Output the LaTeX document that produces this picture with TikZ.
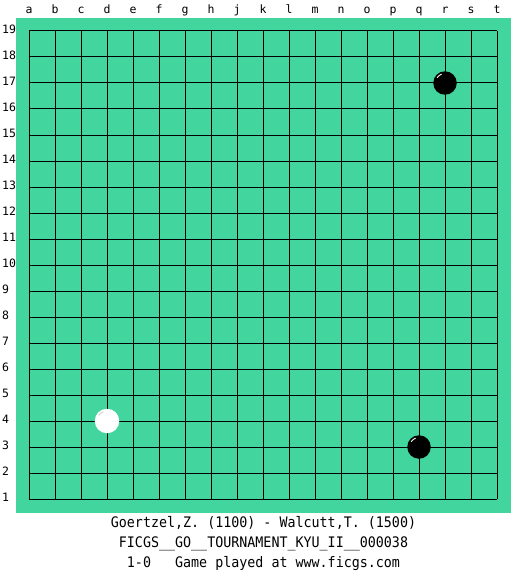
\documentclass[tikz,border=0pt]{standalone}
\usepackage{fontspec}
\usetikzlibrary{calc}
\newfontfamily\lblfont{DejaVu Sans Mono}
\newfontfamily\btfont[FakeStretch=0.92]{DejaVu Sans Mono}
\definecolor{boardgreen}{RGB}{66,214,158}
\tikzset{
  gridline/.style={line width=1pt, black},
  lbl/.style={inner sep=0pt, font=\lblfont\fontsize{11.5}{12}\selectfont},
  bottomtxt/.style={inner sep=0pt, anchor=base, font=\btfont\fontsize{14.5}{16}\selectfont},
  blackstone/.style={circle, fill=black, minimum size=23.5pt, inner sep=0pt},
  whitestone/.style={circle, fill=white, minimum size=24.5pt, inner sep=0pt},
  shine/.style={line width=0.9pt}
}
\begin{document}
\begin{tikzpicture}[x=1pt,y=-1pt]
\useasboundingbox[fill=white] (0,0) rectangle (525,575);
\fill[boardgreen] (16,18) rectangle (511,513);
\foreach \i in {0,...,18} {
  \draw[gridline] ({29+26*\i},31) -- ({29+26*\i},499);
  \draw[gridline] (29,{31+26*\i}) -- (497,{31+26*\i});
}
\foreach \l [count=\i from 0] in {a,b,c,d,e,f,g,h,j,k,l,m,n,o,p,q,r,s,t} {
  \node[lbl, anchor=base] (col\l) at ({29+26*\i},14) {\l};
}
\foreach \r in {1,...,19} {
  \node[lbl, anchor=base west] (row\r) at (2,{527.3-26*\r}) {\r};
}
\node[blackstone] (bq3) at (419,447) {};
\node[blackstone] (br17) at (445,83) {};
\node[whitestone] (wd4) at (107,421) {};
\draw[shine, white] ($(bq3)+(-3.4,-8.87)$) arc[start angle=111, end angle=146, radius=9.5pt];
\draw[shine, white] ($(br17)+(-3.4,-8.87)$) arc[start angle=111, end angle=146, radius=9.5pt];
\draw[shine, gray!35] ($(wd4)+(-3.6,-9.3)$) arc[start angle=111, end angle=146, radius=10pt];
\node[bottomtxt] (t1) at (263.5,527.5) {Goertzel,Z. (1100) - Walcutt,T. (1500)};
\node[bottomtxt] (t2) at (263.5,547.5) {FICGS\_\_GO\_\_TOURNAMENT\_KYU\_II\_\_000038};
\node[bottomtxt] (t3) at (263.5,567.5) {1-0\ \ \ Game played at www.ficgs.com};
\end{tikzpicture}
\end{document}
